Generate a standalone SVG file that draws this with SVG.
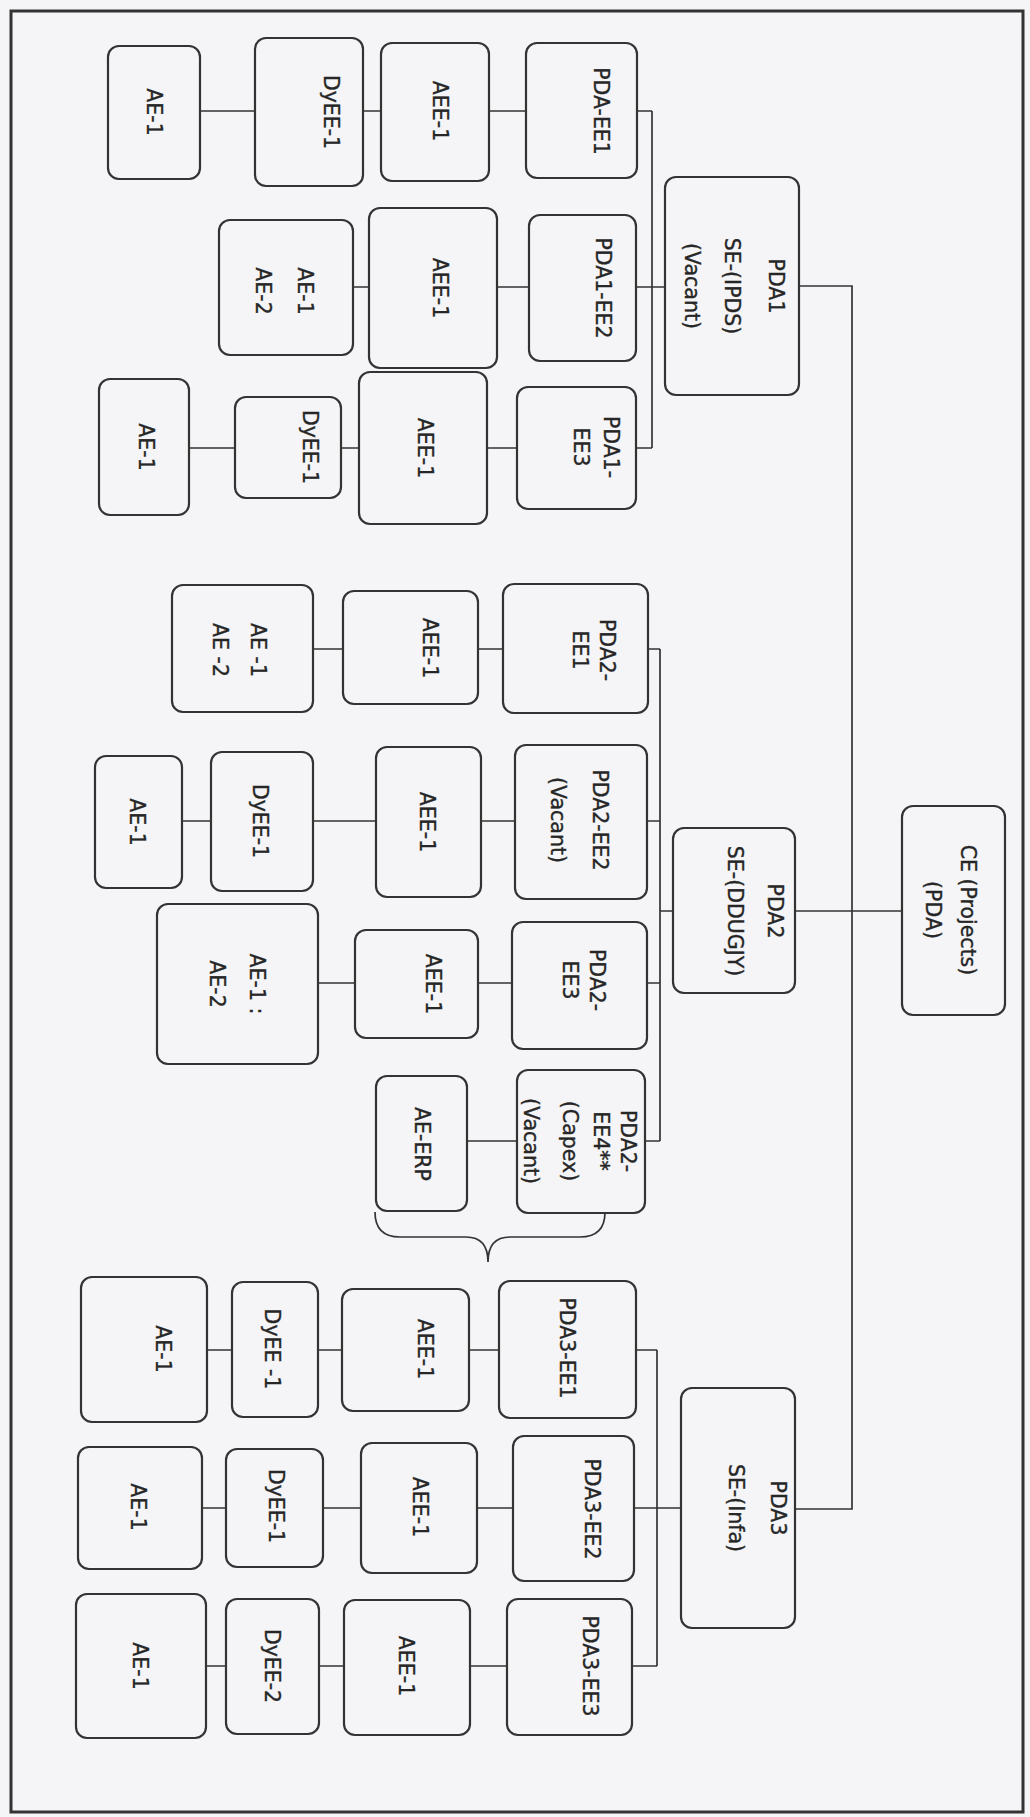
<svg xmlns="http://www.w3.org/2000/svg" width="1030" height="1817" viewBox="0 0 1030 1817">
<style>
.bg{fill:#f5f5f7}
.frame{fill:none;stroke:#333;stroke-width:3}
.box{fill:none;stroke:#333;stroke-width:2.2}
.ln{fill:none;stroke:#333;stroke-width:1.7}
.t{font-family:"DejaVu Sans",Verdana,sans-serif;font-size:20.5px;fill:#262626;stroke:#262626;stroke-width:0.35;text-anchor:middle}
</style>
<rect class="bg" x="0" y="0" width="1030" height="1817"/>
<rect class="frame" x="11" y="11" width="1012" height="1801"/>

<g id="connectors">
<path class="ln" d="M200,111H255M363,111H381M489,111H526M637,111H652"/>
<path class="ln" d="M353,287H369M497,287H529M636,287H665"/>
<path class="ln" d="M189,448H235M341,448H359M487,448H517M636,448H652"/>
<path class="ln" d="M652,111V448"/>
<path class="ln" d="M799,286H852V1509H795"/>
<path class="ln" d="M795,911H902"/>
<path class="ln" d="M313,649H343M478,649H503M648,649H660"/>
<path class="ln" d="M182,821H211M313,821H376M481,821H515M647,821H660"/>
<path class="ln" d="M318,983H355M478,983H512M647,983H660"/>
<path class="ln" d="M467,1141H517M645,1141H660"/>
<path class="ln" d="M660,649V1141M660,911H673"/>
<path class="ln" d="M207,1350H232M318,1350H342M469,1350H499M636,1350H657"/>
<path class="ln" d="M202,1508H226M323,1508H361M477,1508H513M634,1508H681"/>
<path class="ln" d="M206,1666H226M319,1666H344M470,1666H507M632,1666H657"/>
<path class="ln" d="M657,1350V1666"/>
<path id="brace" class="ln" d="M375,1212Q375,1237 400,1237L466,1237Q488,1237 488,1262Q488,1237 510,1237L580,1237Q605,1237 605,1212"/>
</g>

<g id="pda1_ee1_ae"><rect class="box" x="108" y="46" width="92" height="133" rx="11"/><text class="t" transform="translate(154,112) rotate(90)"><tspan x="0" y="7">AE-1</tspan></text></g>
<g id="pda1_ee1_dyee"><rect class="box" x="255" y="38" width="108" height="148" rx="11"/><text class="t" transform="translate(331,112) rotate(90)"><tspan x="0" y="7">DyEE-1</tspan></text></g>
<g id="pda1_ee1_aee"><rect class="box" x="381" y="43" width="108" height="138" rx="11"/><text class="t" transform="translate(440,111) rotate(90)"><tspan x="0" y="7">AEE-1</tspan></text></g>
<g id="pda1_ee1"><rect class="box" x="526" y="43" width="111" height="135" rx="11"/><text class="t" transform="translate(601,111) rotate(90)"><tspan x="0" y="7">PDA-EE1</tspan></text></g>

<g id="pda1_ee2_ae"><rect class="box" x="219" y="220" width="134" height="135" rx="11"/><text class="t" transform="translate(305,291) rotate(90)"><tspan x="0" y="7">AE-1</tspan><tspan x="0" y="49">AE-2</tspan></text></g>
<g id="pda1_ee2_aee"><rect class="box" x="369" y="208" width="128" height="160" rx="11"/><text class="t" transform="translate(440,288) rotate(90)"><tspan x="0" y="7">AEE-1</tspan></text></g>
<g id="pda1_ee2"><rect class="box" x="529" y="215" width="107" height="146" rx="11"/><text class="t" transform="translate(603,288) rotate(90)"><tspan x="0" y="7">PDA1-EE2</tspan></text></g>

<g id="pda1_ee3_ae"><rect class="box" x="99" y="379" width="90" height="136" rx="11"/><text class="t" transform="translate(146,447) rotate(90)"><tspan x="0" y="7">AE-1</tspan></text></g>
<g id="pda1_ee3_dyee"><rect class="box" x="235" y="397" width="106" height="101" rx="11"/><text class="t" transform="translate(310,447) rotate(90)"><tspan x="0" y="7">DyEE-1</tspan></text></g>
<g id="pda1_ee3_aee"><rect class="box" x="359" y="372" width="128" height="152" rx="11"/><text class="t" transform="translate(425,448) rotate(90)"><tspan x="0" y="7">AEE-1</tspan></text></g>
<g id="pda1_ee3"><rect class="box" x="517" y="387" width="119" height="122" rx="11"/><text class="t" transform="translate(611,447) rotate(90)"><tspan x="0" y="7">PDA1-</tspan><tspan x="0" y="37">EE3</tspan></text></g>

<g id="pda1"><rect class="box" x="665" y="177" width="134" height="218" rx="11"/><text class="t" transform="translate(776,286) rotate(90)"><tspan x="0" y="7">PDA1</tspan><tspan x="0" y="51">SE-(IPDS)</tspan><tspan x="0" y="91">(Vacant)</tspan></text></g>

<g id="pda2_ee1_ae"><rect class="box" x="172" y="585" width="141" height="127" rx="11"/><text class="t" transform="translate(258,650) rotate(90)"><tspan x="0" y="7">AE -1</tspan><tspan x="0" y="45">AE -2</tspan></text></g>
<g id="pda2_ee1_aee"><rect class="box" x="343" y="591" width="135" height="113" rx="11"/><text class="t" transform="translate(430,648) rotate(90)"><tspan x="0" y="7">AEE-1</tspan></text></g>
<g id="pda2_ee1"><rect class="box" x="503" y="584" width="145" height="129" rx="11"/><text class="t" transform="translate(607,650) rotate(90)"><tspan x="0" y="7">PDA2-</tspan><tspan x="0" y="34">EE1</tspan></text></g>

<g id="pda2_ee2_ae"><rect class="box" x="95" y="756" width="87" height="132" rx="11"/><text class="t" transform="translate(137,822) rotate(90)"><tspan x="0" y="7">AE-1</tspan></text></g>
<g id="pda2_ee2_dyee"><rect class="box" x="211" y="752" width="102" height="139" rx="11"/><text class="t" transform="translate(260,821) rotate(90)"><tspan x="0" y="7">DyEE-1</tspan></text></g>
<g id="pda2_ee2_aee"><rect class="box" x="376" y="747" width="105" height="150" rx="11"/><text class="t" transform="translate(427,822) rotate(90)"><tspan x="0" y="7">AEE-1</tspan></text></g>
<g id="pda2_ee2"><rect class="box" x="515" y="745" width="132" height="154" rx="11"/><text class="t" transform="translate(600,820) rotate(90)"><tspan x="0" y="7">PDA2-EE2</tspan><tspan x="0" y="49">(Vacant)</tspan></text></g>

<g id="pda2_ee3_ae"><rect class="box" x="157" y="904" width="161" height="160" rx="11"/><text class="t" transform="translate(257,984) rotate(90)"><tspan x="0" y="7">AE-1 :</tspan><tspan x="0" y="47">AE-2</tspan></text></g>
<g id="pda2_ee3_aee"><rect class="box" x="355" y="930" width="123" height="108" rx="11"/><text class="t" transform="translate(433,984) rotate(90)"><tspan x="0" y="7">AEE-1</tspan></text></g>
<g id="pda2_ee3"><rect class="box" x="512" y="922" width="135" height="127" rx="11"/><text class="t" transform="translate(597,980) rotate(90)"><tspan x="0" y="7">PDA2-</tspan><tspan x="0" y="34">EE3</tspan></text></g>

<g id="pda2_ee4_ae"><rect class="box" x="376" y="1076" width="91" height="135" rx="11"/><text class="t" transform="translate(422,1144) rotate(90)"><tspan x="0" y="7">AE-ERP</tspan></text></g>
<g id="pda2_ee4"><rect class="box" x="517" y="1070" width="128" height="143" rx="11"/><text class="t" transform="translate(628,1141) rotate(90)"><tspan x="0" y="7">PDA2-</tspan><tspan x="0" y="34">EE4**</tspan><tspan x="0" y="65">(Capex)</tspan><tspan x="0" y="104">(Vacant)</tspan></text></g>

<g id="pda2"><rect class="box" x="673" y="828" width="122" height="165" rx="11"/><text class="t" transform="translate(775,911) rotate(90)"><tspan x="0" y="7">PDA2</tspan><tspan x="0" y="47">SE-(DDUGJY)</tspan></text></g>

<g id="ce"><rect class="box" x="902" y="806" width="103" height="209" rx="11"/><text class="t" transform="translate(968,910) rotate(90)"><tspan x="0" y="7">CE (Projects)</tspan><tspan x="0" y="42">(PDA)</tspan></text></g>

<g id="pda3_ee1_ae"><rect class="box" x="81" y="1277" width="126" height="145" rx="11"/><text class="t" transform="translate(163,1349) rotate(90)"><tspan x="0" y="7">AE-1</tspan></text></g>
<g id="pda3_ee1_dyee"><rect class="box" x="232" y="1282" width="86" height="135" rx="11"/><text class="t" transform="translate(272,1349) rotate(90)"><tspan x="0" y="7">DyEE -1</tspan></text></g>
<g id="pda3_ee1_aee"><rect class="box" x="342" y="1289" width="127" height="122" rx="11"/><text class="t" transform="translate(425,1349) rotate(90)"><tspan x="0" y="7">AEE-1</tspan></text></g>
<g id="pda3_ee1"><rect class="box" x="499" y="1281" width="137" height="137" rx="11"/><text class="t" transform="translate(567,1348) rotate(90)"><tspan x="0" y="7">PDA3-EE1</tspan></text></g>

<g id="pda3_ee2_ae"><rect class="box" x="78" y="1447" width="124" height="122" rx="11"/><text class="t" transform="translate(138,1507) rotate(90)"><tspan x="0" y="7">AE-1</tspan></text></g>
<g id="pda3_ee2_dyee"><rect class="box" x="226" y="1449" width="97" height="118" rx="11"/><text class="t" transform="translate(276,1506) rotate(90)"><tspan x="0" y="7">DyEE-1</tspan></text></g>
<g id="pda3_ee2_aee"><rect class="box" x="361" y="1443" width="116" height="130" rx="11"/><text class="t" transform="translate(420,1507) rotate(90)"><tspan x="0" y="7">AEE-1</tspan></text></g>
<g id="pda3_ee2"><rect class="box" x="513" y="1436" width="121" height="145" rx="11"/><text class="t" transform="translate(592,1509) rotate(90)"><tspan x="0" y="7">PDA3-EE2</tspan></text></g>

<g id="pda3_ee3_ae"><rect class="box" x="76" y="1594" width="130" height="144" rx="11"/><text class="t" transform="translate(140,1666) rotate(90)"><tspan x="0" y="7">AE-1</tspan></text></g>
<g id="pda3_ee3_dyee"><rect class="box" x="226" y="1599" width="93" height="135" rx="11"/><text class="t" transform="translate(272,1666) rotate(90)"><tspan x="0" y="7">DyEE-2</tspan></text></g>
<g id="pda3_ee3_aee"><rect class="box" x="344" y="1600" width="126" height="135" rx="11"/><text class="t" transform="translate(406,1666) rotate(90)"><tspan x="0" y="7">AEE-1</tspan></text></g>
<g id="pda3_ee3"><rect class="box" x="507" y="1599" width="125" height="136" rx="11"/><text class="t" transform="translate(590,1666) rotate(90)"><tspan x="0" y="7">PDA3-EE3</tspan></text></g>

<g id="pda3"><rect class="box" x="681" y="1388" width="114" height="240" rx="11"/><text class="t" transform="translate(778,1508) rotate(90)"><tspan x="0" y="7">PDA3</tspan><tspan x="0" y="49">SE-(Infa)</tspan></text></g>
</svg>
